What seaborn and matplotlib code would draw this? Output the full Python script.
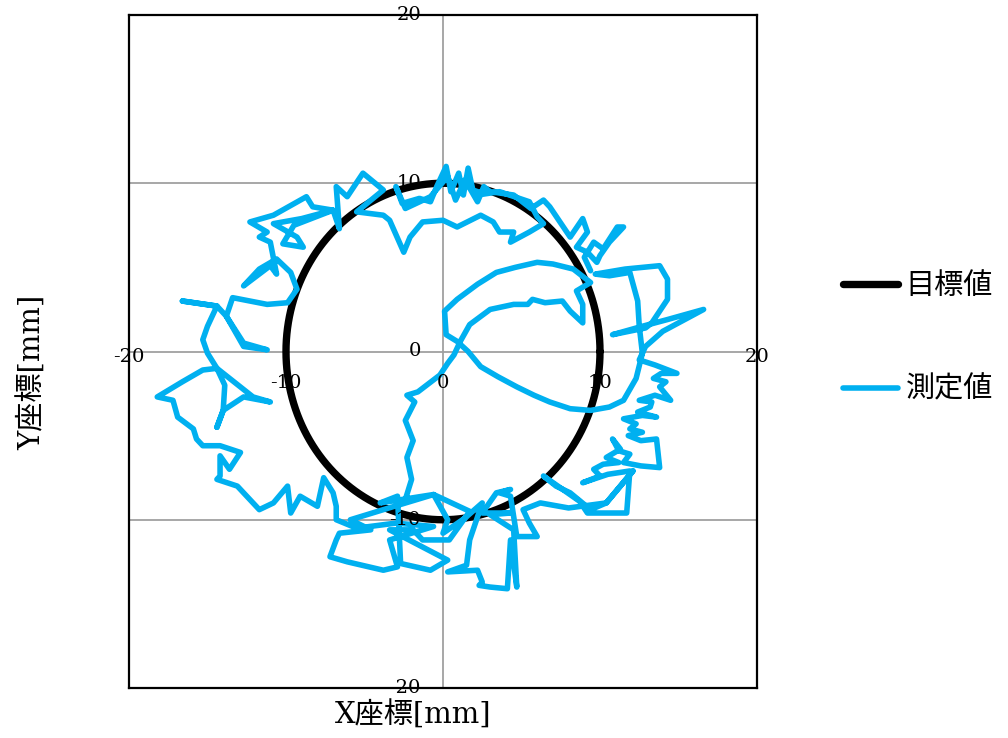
import numpy as np
import pandas as pd
import matplotlib
matplotlib.use("Agg")
import matplotlib.pyplot as plt
import seaborn as sns

# ---- target path: circle of radius 10 mm centred on the origin ----
TARGET_RADIUS = 10.0
target_angle = np.linspace(0.0, 2.0 * np.pi, 361)

# ---- measured path (mm), recorded as consecutive segments ----
seg_inner = [
    (-2.4, -8.8), (-2.0, -7.6), (-2.3, -6.3), (-1.9, -5.3), (-2.4, -4.1), (-1.8, -3.0),
    (-2.3, -2.6), (-1.6, -2.4), (-0.9, -1.9), (-0.2, -1.4), (0.3, -0.7), (0.7, -0.2), (1.1, 0.6),
    (1.7, 1.6), (3.0, 2.5), (4.5, 2.8), (5.4, 2.8), (5.7, 3.1), (6.5, 2.9), (7.6, 3.0),
    (8.1, 2.4), (8.9, 1.7), (8.9, 2.8), (8.5, 3.6), (9.4, 4.1),
    (8.3, 4.9), (7.0, 5.2), (6.0, 5.3), (4.6, 5.0), (3.4, 4.7), (2.2, 4.0), (0.9, 3.1),
    (0.1, 2.4), (0.2, 1.0), (0.9, 0.6),
    (1.6, 0.0), (2.4, -0.9), (3.5, -1.5), (4.7, -2.1), (5.8, -2.6), (6.8, -3.0), (8.1, -3.4),
    (9.4, -3.5), (10.6, -3.3), (11.5, -2.9), (12.3, -1.6), (12.7, -0.1),
]
seg_right_loops = [
    (12.5, 1.5), (12.4, 3.0), (11.9, 4.7), (10.6, 4.5), (9.7, 4.6), (11.6, 4.9), (13.8, 5.1),
    (14.3, 4.3), (14.3, 3.1), (13.3, 1.7), (12.9, 1.4), (10.8, 1.0), (12.7, 1.5), (14.3, 1.9),
    (16.6, 2.5), (14.0, 1.2), (12.9, 0.3),
]
seg_right_side = [
    (12.5, -0.5), (13.5, -0.8), (14.9, -1.3), (13.9, -1.3), (13.4, -1.6), (14.2, -1.8),
    (13.8, -2.1), (14.5, -2.9), (13.5, -2.6), (12.5, -2.9), (13.3, -3.0), (13.2, -3.3),
    (12.4, -3.6), (13.6, -3.9), (12.7, -3.8), (11.5, -4.0), (12.3, -4.3), (11.9, -4.6),
    (12.7, -4.8), (11.8, -5.0), (12.6, -5.3), (13.6, -5.2), (13.8, -6.9), (12.6, -6.8),
    (11.5, -6.6), (11.9, -6.1), (11.2, -5.9), (10.8, -5.2), (11.3, -5.8), (10.4, -6.3),
    (11.2, -6.6), (10.2, -6.7), (9.6, -7.0), (10.0, -7.4), (8.9, -7.8), (10.5, -7.3),
    (11.9, -7.1), (11.7, -9.6), (9.2, -9.6), (8.7, -8.9), (6.4, -7.4), (7.2, -8.0),
    (8.1, -8.4), (9.4, -9.4), (10.4, -9.0), (12.1, -7.1), (10.4, -9.0), (8.0, -9.3),
    (6.2, -9.0),
]
seg_bottom = [
    (5.1, -9.4), (5.5, -10.2), (6.0, -11.0), (4.7, -11.0), (4.3, -8.6), (3.6, -8.4),
    (4.3, -8.2), (3.4, -8.4), (2.5, -9.6), (4.3, -9.6), (3.0, -9.7), (4.5, -10.6),
    (4.7, -14.0), (4.3, -11.2), (4.1, -14.1), (3.0, -14.0), (2.3, -13.9), (2.5, -13.7),
    (2.2, -13.0), (0.3, -13.1), (1.5, -12.7), (1.7, -11.2), (2.5, -9.0), (1.4, -9.9),
    (0.0, -10.8), (0.3, -10.0), (-0.6, -8.5), (1.7, -9.5), (0.4, -11.2), (-1.3, -11.2),
    (-1.9, -10.6), (-3.4, -10.6), (0.3, -12.4), (-0.8, -13.0), (-2.7, -12.6), (-2.9, -8.6),
    (-4.0, -9.0), (-0.6, -8.5), (-3.8, -9.4), (-5.9, -10.0), (-4.6, -10.6), (-6.6, -10.8),
    (-6.8, -11.2), (-7.2, -12.2), (-6.1, -12.5), (-3.8, -13.0), (-2.9, -12.8), (-3.4, -11.2),
    (-0.6, -10.4), (-3.0, -10.2), (-5.5, -10.5), (-6.8, -10.0), (-6.8, -9.2), (-7.0, -8.4),
    (-7.6, -7.5), (-8.0, -9.2), (-9.1, -8.6), (-9.7, -9.6), (-9.9, -8.0), (-10.8, -9.0),
    (-11.7, -9.4), (-12.3, -8.8), (-13.1, -8.0), (-14.4, -7.6),
]
seg_left = [
    (-14.2, -7.4), (-14.2, -6.2), (-13.6, -7.0), (-12.9, -6.0), (-14.2, -5.6), (-15.3, -5.6),
    (-15.7, -5.2), (-15.9, -4.6), (-16.9, -3.9), (-17.2, -2.9), (-18.2, -2.7), (-16.6, -1.8),
    (-15.3, -1.1), (-14.4, -1.0), (-12.1, -2.7), (-11.0, -3.0), (-12.7, -2.7), (-14.0, -3.5),
    (-14.4, -4.5), (-14.0, -3.5), (-13.9, -2.0), (-14.4, -1.0), (-15.0, -0.1), (-15.3, 0.7),
    (-15.0, 1.5), (-14.4, 2.7), (-16.6, 3.0), (-14.4, 2.7), (-13.8, 2.1), (-12.7, 0.5),
    (-11.2, 0.1), (-12.7, 0.3), (-13.8, 2.1), (-13.4, 3.2), (-11.2, 2.8), (-9.9, 2.9),
    (-9.3, 3.7), (-9.7, 4.7), (-10.6, 5.5), (-11.7, 4.9), (-12.7, 3.9), (-11.0, 5.1),
    (-10.6, 4.6), (-11.0, 6.5), (-11.7, 6.8), (-11.2, 7.1), (-12.3, 7.7), (-10.8, 8.1),
    (-8.7, 9.2), (-8.3, 8.6), (-7.0, 8.4), (-9.0, 7.9), (-10.8, 7.6), (-9.3, 6.8),
    (-8.9, 6.2), (-10.2, 6.4), (-9.5, 7.5), (-7.0, 8.4), (-6.6, 7.3), (-6.8, 9.8),
    (-6.1, 9.2), (-5.1, 10.6), (-3.8, 9.6),
]
seg_top = [
    (-5.5, 8.3), (-3.8, 8.1), (-3.4, 7.8), (-2.5, 5.9), (-2.1, 6.8), (-1.3, 7.7), (0.0, 7.8),
    (0.9, 7.4), (2.4, 8.1), (3.2, 7.7), (3.6, 7.1), (4.5, 7.1), (4.3, 6.5), (5.5, 7.1),
    (6.4, 7.6), (6.0, 8.0), (5.5, 8.9), (3.6, 9.5), (2.2, 9.3), (2.5, 9.4), (1.9, 9.6),
    (1.6, 10.9), (1.3, 9.3), (1.0, 10.6), (0.5, 9.5), (0.2, 11.0), (-0.4, 9.8), (-0.8, 8.9),
    (-1.5, 9.1), (-2.6, 8.8), (-3.0, 9.8), (-2.4, 8.5), (-0.8, 9.2), (0.3, 10.4), (0.8, 9.0),
    (1.4, 10.2), (2.2, 8.9), (2.6, 9.8), (3.0, 9.5), (4.5, 9.3), (5.6, 8.5), (6.4, 9.0),
    (6.8, 8.6), (8.1, 6.8), (8.9, 7.9), (9.2, 7.1), (8.5, 6.2), (9.2, 5.9), (9.8, 5.3),
    (10.0, 5.7), (10.6, 6.5), (11.5, 7.4), (11.1, 7.4), (10.2, 6.1), (9.6, 6.5), (9.0, 5.6),
    (9.4, 4.8),
]

x_ticks = [-20, -10, 0, 10, 20]
y_ticks = [-20, -10, 0, 10, 20]
series_labels = ["目標値", "測定値"]
x_label = "X座標[mm]"
y_label = "Y座標[mm]"

target_df = pd.DataFrame({
    "x": TARGET_RADIUS * np.cos(target_angle),
    "y": TARGET_RADIUS * np.sin(target_angle),
})
measured = seg_inner + seg_right_loops + seg_right_side + seg_bottom + seg_left + seg_top
measured_df = pd.DataFrame(measured, columns=["x", "y"])

sns.set_theme(style="white")
plt.rcParams["font.family"] = ["DejaVu Serif", "Noto Sans CJK JP"]
plt.rcParams["text.color"] = "black"

fig = plt.figure(figsize=(10.08, 7.38), dpi=100)
ax = fig.add_axes([129 / 1008, 1 - 688 / 738, 628 / 1008, 673 / 738])

line_kw = dict(sort=False, estimator=None, solid_joinstyle="round", solid_capstyle="round")
sns.lineplot(data=target_df, x="x", y="y", color="black", linewidth=5.3,
             label=series_labels[0], ax=ax, **line_kw)
sns.lineplot(data=measured_df, x="x", y="y", color="#00B0F0", linewidth=4.0,
             label=series_labels[1], ax=ax, **line_kw)

ax.set_xlim(-20, 20)
ax.set_ylim(-20, 20)
ax.set_xticks(x_ticks)
ax.set_yticks(y_ticks)
ax.tick_params(length=0, labelbottom=False, labelleft=False)
ax.set_xlabel("")
ax.set_ylabel("")
# horizontal gridlines only; the vertical axis line runs through x = 0
ax.grid(True, axis="y", color="#A0A0A0", linewidth=1.3)
ax.axvline(0, color="#A0A0A0", linewidth=1.3, zorder=0.5)
ax.set_axisbelow(True)
for sp in ax.spines.values():
    sp.set_color("black")
    sp.set_linewidth(1.6)

# tick labels sit on the axes crossing at the origin
px = 0.72
for v in x_ticks:
    dy = 5 if abs(v) == 20 else 31
    ax.annotate(str(v), xy=(v, 0), xytext=(0, -dy * px), textcoords="offset points",
                ha="center", va="center", fontsize=14, color="black", annotation_clip=False)
for v in y_ticks:
    ax.annotate(str(v), xy=(0, v), xytext=(-22 * px, 0), textcoords="offset points",
                ha="right", va="center", fontsize=14, color="black", annotation_clip=False)

fig.text(413 / 1008, 1 - 715 / 738, x_label, ha="center", va="center", fontsize=21, color="black")
fig.text(32 / 1008, 1 - 372 / 738, y_label, ha="center", va="center", fontsize=21,
         rotation=90, color="black")

handles, labels = ax.get_legend_handles_labels()
ax.get_legend().remove()
fig.legend(handles, labels, loc="center left", bbox_to_anchor=(843 / 1008, 1 - 338 / 738),
           frameon=False, fontsize=21, handlelength=1.9, handletextpad=0.25,
           labelspacing=2.6, borderpad=0, borderaxespad=0, labelcolor="black")

fig.savefig("out.png", dpi=100)
